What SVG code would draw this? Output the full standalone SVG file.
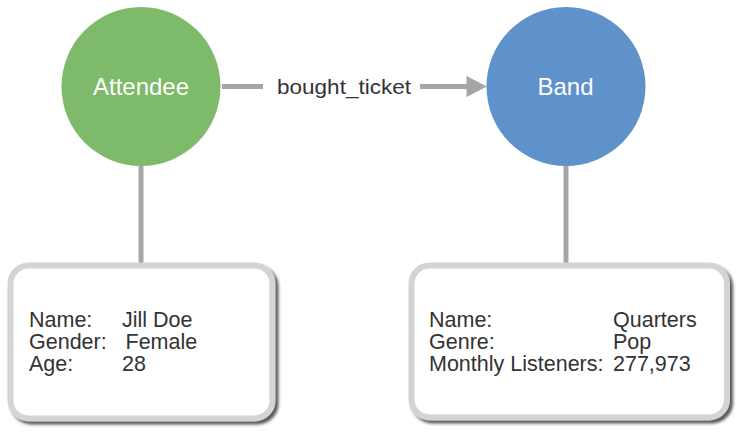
<svg xmlns="http://www.w3.org/2000/svg" width="739" height="434" viewBox="0 0 739 434">
<style>
.node-text{font-family:"Liberation Sans",Arial,sans-serif;font-size:24px;fill:#ffffff;text-anchor:middle}
.label{font-family:"Liberation Sans",Arial,sans-serif;font-size:21px;fill:#333333}
.prop{font-family:"Liberation Sans",Arial,sans-serif;font-size:21.5px;fill:#333333}
.edge{stroke:#a6a6a6;stroke-width:5;fill:none}
.box{fill:#ffffff;stroke:#d4d4d4;stroke-width:6;filter:url(#shadow)}
</style>
<defs>
<filter id="shadow" x="-10%" y="-10%" width="125%" height="130%">
<feDropShadow dx="3" dy="3" stdDeviation="1.5" flood-color="#444444" flood-opacity="0.9"/>
</filter>
</defs>
<rect width="739" height="434" fill="#ffffff"/>
<g id="connectors">
<line class="edge" x1="222" y1="86.5" x2="263" y2="86.5"/>
<line class="edge" x1="420" y1="86.5" x2="468" y2="86.5"/>
<polygon points="466.5,76 487,86.5 466.5,97" fill="#a6a6a6"/>
<text class="label" x="277" y="93.5" textLength="134" lengthAdjust="spacingAndGlyphs">bought_ticket</text>
<line class="edge" x1="141" y1="165" x2="141" y2="263" stroke-width="4.5"/>
<line class="edge" x1="566" y1="165" x2="566" y2="263" stroke-width="4.5"/>
</g>
<g id="attendee">
<circle cx="141" cy="86.5" r="79.5" fill="#7dba6a"/>
<text class="node-text" x="141" y="94.5">Attendee</text>
</g>
<g id="band">
<circle cx="566" cy="86.5" r="79.5" fill="#5f91cb"/>
<text class="node-text" x="565.5" y="94.5">Band</text>
</g>
<g id="attendee-props">
<rect class="box" x="10.5" y="265.5" width="262" height="153" rx="18"/>
<text class="prop" x="29" y="327">Name:</text>
<text class="prop" x="122" y="327">Jill Doe</text>
<text class="prop" x="29" y="349">Gender:</text>
<text class="prop" x="125.5" y="349">Female</text>
<text class="prop" x="29" y="371">Age:</text>
<text class="prop" x="122" y="371">28</text>
</g>
<g id="band-props">
<rect class="box" x="411.5" y="265.5" width="315.5" height="152" rx="18"/>
<text class="prop" x="429" y="327">Name:</text>
<text class="prop" x="613" y="327">Quarters</text>
<text class="prop" x="429" y="349">Genre:</text>
<text class="prop" x="613" y="349">Pop</text>
<text class="prop" x="429" y="371">Monthly Listeners:</text>
<text class="prop" x="613" y="371">277,973</text>
</g>
</svg>
